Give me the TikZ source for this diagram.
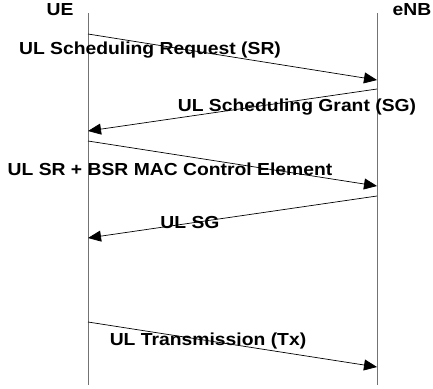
\documentclass[tikz,border=0pt]{standalone}
\usepackage{fontspec}
\setmainfont{Liberation Sans}
\newfontfamily\labfont[FakeStretch=1.11]{Liberation Sans}
\usetikzlibrary{arrows.meta}
\tikzset{
  lifeline/.style={draw=black!55, line width=0.9pt},
  msg/.style={draw=black, line width=0.7pt, -{Triangle[length=13pt,width=11pt]}},
  lab/.style={inner sep=0pt, font=\labfont\bfseries\fontsize{17.4}{18}\selectfont},
}
\begin{document}
\begin{tikzpicture}[x=1pt,y=-1pt]
\useasboundingbox (0,0) rectangle (433,388);
% lifelines
\coordinate (ueT) at (88,13);
\coordinate (ueB) at (88,385);
\coordinate (enT) at (377,13);
\coordinate (enB) at (377,385);
\draw[lifeline] (ueT) -- (ueB);
\draw[lifeline] (enT) -- (enB);
\node[lab] (ue) at (60,10) {UE};
\node[lab] (enb) at (412,10) {eNB};
% message endpoints
\coordinate (a1) at (88,34);  \coordinate (b1) at (377,80);
\coordinate (a2) at (377,89); \coordinate (b2) at (88,131);
\coordinate (a3) at (88,141); \coordinate (b3) at (377,186);
\coordinate (a4) at (377,196); \coordinate (b4) at (88,238);
\coordinate (a5) at (88,322); \coordinate (b5) at (377,367);
\draw[msg] (a1) -- (b1);
\draw[msg] (a2) -- (b2);
\draw[msg] (a3) -- (b3);
\draw[msg] (a4) -- (b4);
\draw[msg] (a5) -- (b5);
% labels
\node[lab] (l1) at (150,50) {UL Scheduling Request (SR)};
\node[lab] (l2) at (297,107) {UL Scheduling Grant (SG)};
\node[lab] (l3) at (170,169) {UL SR + BSR MAC Control Element};
\node[lab] (l4) at (190,223) {UL SG};
\node[lab] (l5) at (208,341) {UL Transmission (Tx)};
\end{tikzpicture}
\end{document}
